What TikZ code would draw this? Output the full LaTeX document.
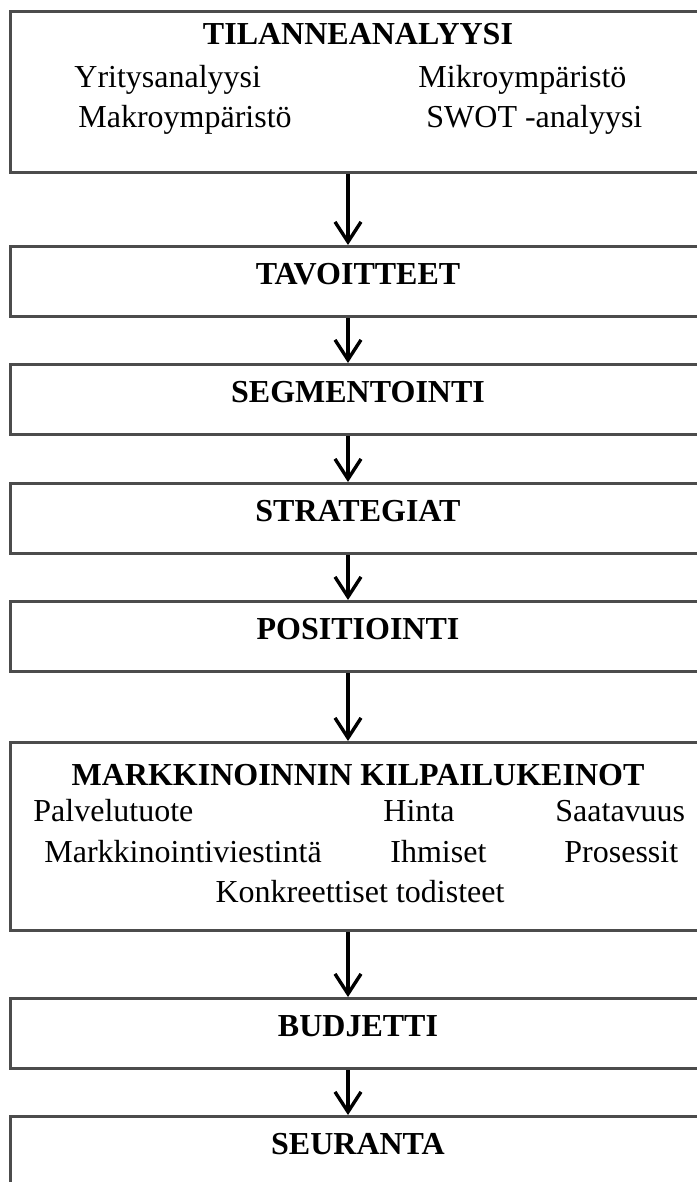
\documentclass[tikz,border=0pt]{standalone}
\usepackage{fontspec}
\setmainfont{Liberation Serif}
\usetikzlibrary{arrows.meta}
\begin{document}
\begin{tikzpicture}[x=0.5pt,y=-0.5pt,
  box/.style={draw=black!70, line width=1.5pt, minimum width=348pt, inner sep=0pt, anchor=north,
              font=\fontsize{16}{19}\selectfont\bfseries},
  stepbox/.style={box, text height=19pt, text depth=16pt},
  txt/.style={inner sep=0pt, font=\fontsize{16}{19}\selectfont, anchor=base west},
  head/.style={inner sep=0pt, font=\fontsize{16}{19}\selectfont\bfseries, anchor=base},
  arr/.style={-{Straight Barb[length=10pt,width=13pt]}, line width=1.7pt, black}]
\useasboundingbox (0,0) rectangle (696,1182);
\fill[white] (0,0) rectangle (696,1182);
\coordinate (ax) at (348,0);

% Box 1
\node[box, minimum height=80.5pt] (b1) at (358,10) {};
\node[head] (h1) at (358,45) {TILANNEANALYYSI};
\node[txt] (t11) at (74,88) {Yritysanalyysi};
\node[txt] (t12) at (418,88) {Mikroympäristö};
\node[txt] (t13) at (78,128) {Makroympäristö};
\node[txt] (t14) at (426,128) {SWOT -analyysi};

% single boxes
\node[stepbox] (b2) at (358,245) {TAVOITTEET};
\node[stepbox] (b3) at (358,363) {SEGMENTOINTI};
\node[stepbox] (b4) at (358,482) {STRATEGIAT};
\node[stepbox] (b5) at (358,600) {POSITIOINTI};

% Box 6
\node[box, minimum height=94pt] (b6) at (358,741) {};
\node[head] (h6) at (358,785) {MARKKINOINNIN KILPAILUKEINOT};
\node[txt] (t61) at (33,821) {Palvelutuote};
\node[txt] (t62) at (383,821) {Hinta};
\node[txt] (t63) at (555,821) {Saatavuus};
\node[txt] (t64) at (44,862) {Markkinointiviestintä};
\node[txt] (t65) at (390,862) {Ihmiset};
\node[txt] (t66) at (564,862) {Prosessit};
\node[txt, anchor=base] (t67) at (360,902) {Konkreettiset todisteet};

\node[stepbox] (b7) at (358,997) {BUDJETTI};
\node[box, text height=19pt, text depth=40pt] (b8) at (358,1115) {SEURANTA};

% arrows
\draw[arr] (b1.south -| ax) -- (b2.north -| ax);
\draw[arr] (b2.south -| ax) -- (b3.north -| ax);
\draw[arr] (b3.south -| ax) -- (b4.north -| ax);
\draw[arr] (b4.south -| ax) -- (b5.north -| ax);
\draw[arr] (b5.south -| ax) -- (b6.north -| ax);
\draw[arr] (b6.south -| ax) -- (b7.north -| ax);
\draw[arr] (b7.south -| ax) -- (b8.north -| ax);
\end{tikzpicture}
\end{document}
